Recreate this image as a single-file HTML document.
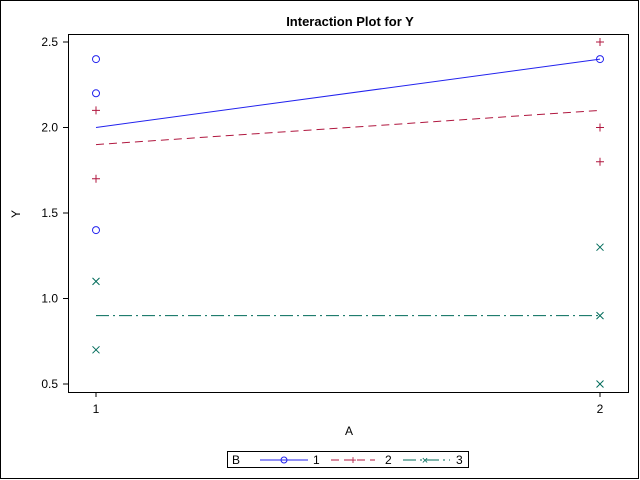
<!DOCTYPE html>
<html><head><meta charset="utf-8"><style>body{margin:0;background:#fff}svg{display:block;font-family:"Liberation Sans",Arial,sans-serif}</style></head>
<body>
<svg width="640" height="480">
<script>
const levelsA=[1,2];
const groupB=["1","2","3"];
const pts1=[[1,2.4],[1,2.2],[1,1.4],[2,2.4]];
const pts2=[[1,2.1],[1,1.7],[2,2.5],[2,2.0],[2,1.8]];
const pts3=[[1,1.1],[1,0.7],[2,1.3],[2,0.9],[2,0.5]];
const means1=[2.0,2.4];
const means2=[1.9,2.1];
const means3=[0.9,0.9];
const yTicks=[0.5,1.0,1.5,2.0,2.5];
</script>
<rect x="0.5" y="0.5" width="638" height="478" fill="none" stroke="#000"/>
<text x="350" y="26" font-size="13" font-weight="bold" text-anchor="middle">Interaction Plot for Y</text>
<rect x="68.5" y="34.5" width="560" height="358" fill="none" stroke="#000"/>
<text x="349" y="435" font-size="12" text-anchor="middle">A</text>
<text x="20" y="214" font-size="12" text-anchor="middle" transform="rotate(-90 20 214)">Y</text>
<g id="g"></g>
<g>
<rect x="227.5" y="451.5" width="241" height="16" fill="none" stroke="#000"/>
<text x="232" y="464" font-size="12">B</text>
<line x1="260" y1="460" x2="308" y2="460" stroke="#22e"/><circle cx="284" cy="460" r="3" fill="none" stroke="#22e"/><text x="313" y="464" font-size="12">1</text>
<line x1="331" y1="460" x2="375" y2="460" stroke="#b0173f" stroke-dasharray="8,5"/><text x="353" y="464" font-size="12" fill="#b0173f" text-anchor="middle">+</text><text x="385" y="464" font-size="12">2</text>
<line x1="403" y1="460" x2="450" y2="460" stroke="#006b5a" stroke-dasharray="13,4,2,4"/><text x="425" y="464" font-size="11" fill="#006b5a" text-anchor="middle">×</text><text x="456" y="464" font-size="12">3</text>
</g>
<script>
const NS="http://www.w3.org/2000/svg";const g=document.getElementById("g");
const xs=a=>96+(a-1)*504;const ys=v=>384-(v-0.5)*171;
function mk(t,at){const e=document.createElementNS(NS,t);for(const k in at)e.setAttribute(k,at[k]);g.appendChild(e);return e;}
yTicks.forEach(v=>{const l=mk("line",{x1:63,x2:68,y1:ys(v),y2:ys(v),stroke:"#000"});


const t=mk("text",{x:58,y:ys(v)+4,"font-size":12,"text-anchor":"end"});t.textContent=v.toFixed(1);

});
levelsA.forEach(a=>{const l=mk("line",{x1:xs(a),x2:xs(a),y1:392,y2:397,stroke:"#000"});


const t=mk("text",{x:xs(a),y:413,"font-size":12,"text-anchor":"middle"});t.textContent=a;

});
const cfg=[[means1,pts1,"#22e","none","o"],[means2,pts2,"#b0173f","8,5","+"],[means3,pts3,"#006b5a","13,4,2,4","x"]];
cfg.forEach((c,i)=>{const [m,p,col,da,sym]=c;
const l=mk("line",{x1:xs(levelsA[0]),y1:ys(m[0]),x2:xs(levelsA[1]),y2:ys(m[1]),stroke:col,"stroke-dasharray":da});


p.forEach(q=>{const x=xs(q[0]),y=ys(q[1]);let e;
if(sym=="o")e=mk("circle",{cx:x,cy:y,r:3.5,fill:"none",stroke:col});
else if(sym=="+")e=mk("path",{d:`M${x-4},${y}H${x+4}M${x},${y-4}V${y+4}`,stroke:col});
else e=mk("path",{d:`M${x-3.5},${y-3.5}L${x+3.5},${y+3.5}M${x-3.5},${y+3.5}L${x+3.5},${y-3.5}`,stroke:col});

});});
</script>
</svg>
</body></html>
